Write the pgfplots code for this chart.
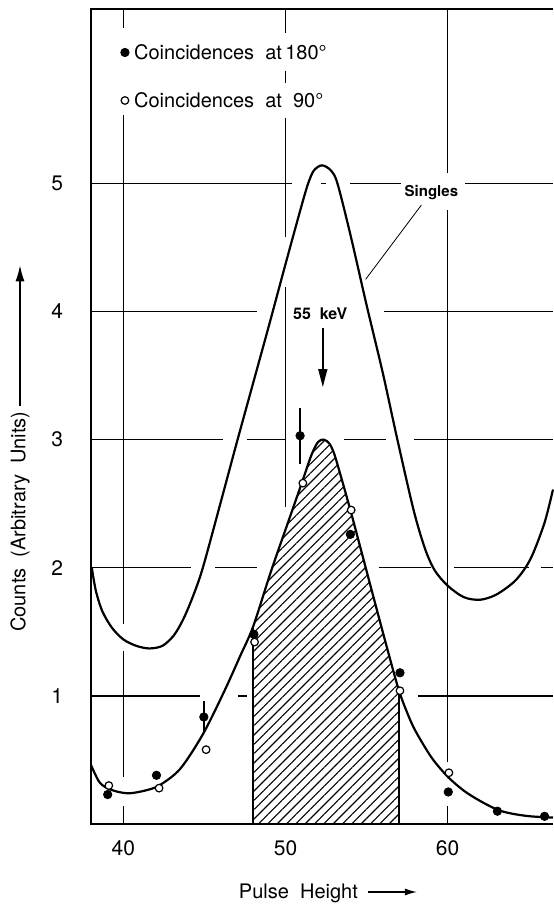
\documentclass[border=0pt]{standalone}
\usepackage{pgfplots}
\pgfplotsset{compat=1.18}
\usepgfplotslibrary{fillbetween}
\usetikzlibrary{patterns.meta,arrows.meta}
\usepackage{fontspec}
\setmainfont{TeX Gyre Heros}

\pgfplotstableread{
x y
38.05 2.00
38.3 1.82
38.7 1.66
39.3 1.53
40.0 1.44
40.8 1.39
41.6 1.37
42.4 1.39
43.1 1.47
43.7 1.60
44.3 1.78
44.9 2.00
46.0 2.51
47.0 2.98
48.0 3.44
49.0 3.90
50.0 4.37
51.0 4.83
51.4 5.00
51.75 5.10
52.25 5.14
52.8 5.10
53.2 5.00
54.0 4.60
55.0 4.05
56.0 3.52
56.9 3.00
57.9 2.45
58.6 2.15
59.2 1.98
60.0 1.86
61.0 1.77
62.0 1.75
63.0 1.79
64.1 1.89
64.8 2.00
65.3 2.12
66.0 2.36
66.5 2.61
}\singles

\pgfplotstableread{
x y
38.0 0.46
38.5 0.33
39.0 0.28
39.7 0.25
40.4 0.24
41.3 0.26
42.2 0.30
43.5 0.43
44.9 0.70
46.2 1.03
47.2 1.31
48.0 1.54
49.1 1.97
50.2 2.37
51.0 2.66
51.6 2.88
52.0 2.98
52.35 3.00
52.7 2.97
53.0 2.89
53.4 2.72
54.0 2.45
54.8 2.07
55.7 1.64
56.4 1.31
57.0 1.04
57.5 0.87
58.0 0.73
59.0 0.52
60.0 0.37
61.0 0.26
62.0 0.18
63.1 0.11
64.0 0.08
65.1 0.06
66.5 0.05
}\coinc

\pgfplotstableread{
x y e
39.03 0.23 0
42.04 0.38 0
44.96 0.835 0.125
48.05 1.48 0
50.9 3.03 0.22
54.0 2.26 0
57.06 1.18 0
60.04 0.25 0
63.07 0.10 0
65.98 0.06 0
}\filled

\pgfplotstableread{
x y
39.1 0.30
42.2 0.28
45.1 0.58
48.09 1.42
51.07 2.66
54.05 2.45
57.06 1.04
60.08 0.40
}\open

\begin{document}
\begin{tikzpicture}
\begin{axis}[
  scale only axis, width=231pt, height=407.5pt,
  xmin=38, xmax=66.5, ymin=0, ymax=6.36,
  axis line style={draw=none},
  clip=false,
  xtick={40,50,60}, ytick={1,2,3,4,5},
  major tick length=0pt,
  /pgf/number format/assume math mode=true,
  tick label style={font=\fontsize{10.5}{12}\selectfont},
  xticklabel style={yshift=-5pt},
  yticklabel style={xshift=-10.5pt},
  legend style={draw=none, fill=none, inner sep=0pt, row sep=16.8pt, column sep=2.5pt,
    at={(axis cs:39.81,6.08)}, anchor=north west,
    nodes={inner sep=0pt, text height=7.2pt, text depth=0pt},
    font=\fontsize{10}{12}\selectfont},
  legend cell align=left,
  legend image code/.code={\draw[#1] plot coordinates {(2pt,0pt)}; \path[draw=none,fill=none] (0pt,-3.6pt) (4pt,3.6pt);},
]
\coordinate (O) at (rel axis cs:0,0);
% frame (left, bottom, top)
\draw[line width=0.8pt] (rel axis cs:1,1) -- (rel axis cs:0,1) -- (rel axis cs:0,0) -- (rel axis cs:1,0);
% broken grid lines
\draw[line width=0.7pt]
  (38,5) -- (50.43,5) (52.16,5) -- (52.47,5) (53.95,5) -- (57.1,5) (61.1,5) -- (66.5,5)
  (38,4) -- (48.27,4) (56.05,4) -- (66.5,4)
  (38,3) -- (46.17,3) (47.65,3) -- (49.94,3) (53.58,3) -- (56.17,3) (57.9,3) -- (66.5,3)
  (38,2) -- (44.14,2) (45.68,2) -- (48.27,2) (55.74,2) -- (58.95,2) (60.37,2) -- (65.0,2) (65.75,2) -- (66.5,2)
  (38,1) -- (44.75,1) (47.04,1) -- (47.65,1) (58.15,1) -- (66.5,1)
  (40,6.36) -- (40,6.21) (40,5.53) -- (40,1.56) (40,1.35) -- (40,0.37) (40,0.14) -- (40,0)
  (50,6.36) -- (50,6.17) (50,5.88) -- (50,5.78) (50,5.51) -- (50,4.58) (50,4.19) -- (50,2.47)
  (60,6.36) -- (60,5.08) (60,4.79) -- (60,0.48) (60,0.14) -- (60,0);
% curves
\addplot[name path=C, black, line width=1.1pt, smooth, tension=0.5, forget plot] table {\coinc};
\addplot[name path=S, black, line width=1.1pt, smooth, tension=0.5, forget plot] table {\singles};
\addplot[name path=B, draw=none, forget plot] coordinates {(38,0) (66.5,0)};
\addplot[pattern={Lines[angle=45,distance=3.3pt,line width=0.55pt]}, draw=none, forget plot]
  fill between[of=C and B, soft clip={domain=48:57}];
\draw[line width=1pt] (48,0) -- (48,1.54) (57,0) -- (57,1.04);
% data
\addplot[only marks, mark=*, mark size=2.1pt, black,
  error bars/.cd, y dir=both, y explicit, error mark=none,
  error bar style={line width=0.8pt}]
  table[x=x, y=y, y error=e] {\filled};
\addlegendentry{Coincidences\ \ at\,180°}
\addplot[only marks, mark=*, mark size=1.9pt, black, mark options={fill=white, line width=0.6pt}]
  table {\open};
\addlegendentry{Coincidences\ \ at\ \ 90°}
% annotations
\node[font=\bfseries\fontsize{8}{10}\selectfont] at (52.14,3.98) {55\ \ keV};
\draw[line width=0.7pt, -{Triangle[length=9pt,width=4.5pt]}] (52.3,3.87) -- (52.3,3.41);
\node[font=\bfseries\fontsize{7.5}{9}\selectfont] at (59.0,4.93) {Singles};
\draw[line width=0.4pt] (58.38,4.83) -- (54.94,4.25);
% axis labels
\node[font=\fontsize{10}{12}\selectfont, yshift=-34.5pt] at (rel axis cs:0.449,0) {Pulse\ \ Height};
\draw[line width=0.7pt, -{Latex[length=6pt,width=3.5pt]}] ([yshift=-34pt]rel axis cs:0.5996,0) -- ([yshift=-34pt]rel axis cs:0.7056,0);
\node[font=\fontsize{10}{12}\selectfont, rotate=90] at ([xshift=-35.5pt]O |- 0,2.36) {Counts\ \ (Arbitrary\ \ Units)};
\draw[line width=0.7pt, -{Latex[length=8pt,width=4.5pt]}] ([xshift=-35.5pt]O |- 0,3.26) -- ([xshift=-35.5pt]O |- 0,4.36);
\end{axis}
\pgfresetboundingbox
\path[use as bounding box] (O) ++(-45.5pt,-40.5pt) rectangle ++(276.5pt,452.5pt);
\end{tikzpicture}
\end{document}
